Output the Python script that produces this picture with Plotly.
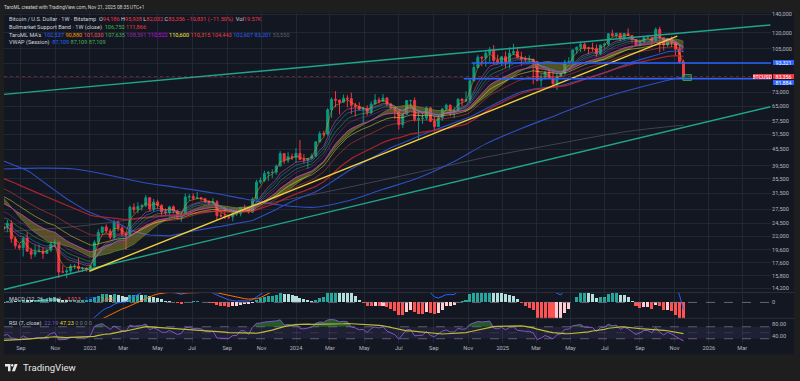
import numpy as np
import pandas as pd
import plotly.graph_objects as go

W, H = 800, 381
FONT = "Roboto, 'Noto Sans', sans-serif"

# ---------------- DATA ----------------
# weekly closes before the visible window (2021-07-05 .. 2022-07-25), used for indicator warm-up
pre_close = [34300, 31800, 35400, 39900, 43800, 47000, 49300, 48800, 51800, 46000, 47300, 42800, 48200,
             57500, 61500, 61000, 61300, 63300, 65500, 59700, 57300, 49400, 50100, 46700, 50800, 47300,
             41800, 43100, 36300, 37900, 42400, 42200, 40100, 37700, 38400, 37800, 41300, 46800, 46400,
             42100, 39700, 39400, 37700, 34100, 31300, 29400, 29500, 29900, 26600, 20600, 21000, 19300,
             20900, 20800, 22600, 23300]

# visible weekly candles (BTCUSD, Bitstamp), 2022-08-01 .. 2025-11-17
first_open = 23300
last_week = "2025-11-17"
high_2022 = [24250, 25200, 25100, 21900, 20600, 21900, 22700, 19950, 20400, 20450, 19950, 19700, 21000, 21450,
             21000, 17200, 16800, 17400, 17400, 18400, 17000, 16950]
low_2022 = [22400, 22700, 20800, 19800, 19600, 18550, 19300, 18150, 18500, 19250, 18200, 18950, 19250, 20050,
            15500, 16250, 15480, 16000, 16700, 16300, 16300, 16350]
close_2022 = [23900, 24450, 21500, 20300, 19950, 21600, 19400, 18900, 19300, 19400, 19050, 19550, 20600, 20900,
              16300, 16300, 16450, 17100, 17100, 16780, 16840, 16620]
high_2023 = [17200, 21250, 23300, 23800, 24250, 23400, 25250, 25100, 24100, 22600, 28400, 28900, 29200, 28800,
             31000, 30500, 30000, 29800, 28700, 27700, 28300, 28450, 27350, 26800, 31400, 31300, 31400, 31800,
             30400, 30100, 29700, 30250, 29700, 26800, 28100, 26100, 27000, 27450, 28050, 28600, 27950, 30400,
             35200, 35900, 37950, 37900, 38400, 40000, 44700, 43900, 44300, 43800]
low_2023 = [16550, 17100, 20400, 22300, 22550, 21400, 21400, 22900, 21950, 19600, 21900, 26600, 26600, 27200,
            28000, 27100, 26950, 27700, 25800, 26150, 25850, 26550, 25350, 24800, 26250, 29500, 29700, 29950,
            29550, 29100, 28600, 28700, 25150, 25800, 25350, 25350, 24900, 26050, 25950, 27200, 26550, 26800,
            29900, 34000, 34550, 34800, 35700, 36700, 39400, 40200, 40500, 41500]
close_2023 = [17130, 20880, 22700, 23740, 22940, 21780, 24630, 23560, 22430, 22150, 27990, 27470, 28170, 28330,
              30300, 27600, 29250, 28430, 26920, 26750, 28080, 27100, 25850, 26340, 30470, 30600, 30160, 30300,
              30080, 29300, 29050, 29300, 26100, 26000, 25830, 25830, 26530, 26550, 27970, 27920, 26860, 29950,
              34530, 35000, 37050, 37400, 37450, 39450, 43800, 41400, 42700, 42300]
high_2024 = [45900, 49000, 43600, 42200, 43850, 48600, 52800, 52900, 64000, 70000, 73800, 68900, 71700, 71300,
             72800, 66900, 67200, 64700, 65500, 67700, 71950, 70000, 72000, 70200, 66950, 64200, 63800, 61400,
             68400, 68500, 70000, 62700, 61800, 65000, 64500, 59800, 60700, 64100, 66500, 66000, 64500, 69400,
             69500, 73600, 81500, 93400, 99600, 98700, 104000, 106600, 108300, 99900, 98900]
low_2024 = [40750, 41500, 40300, 38550, 41900, 42600, 48300, 50600, 50900, 59000, 64500, 60800, 66800, 64500,
            60900, 59700, 62800, 56500, 60200, 60800, 66100, 66600, 67700, 65100, 63400, 58400, 53500, 54300,
            60700, 63500, 57200, 49100, 56100, 57800, 57200, 52600, 54600, 57500, 62700, 59900, 58900, 62500,
            65100, 67500, 66800, 80000, 89400, 90800, 90500, 94200, 92200, 92500, 91300]
close_2024 = [43900, 41700, 41550, 42050, 43000, 48300, 51700, 51550, 63100, 68900, 68400, 67200, 69600, 69300,
              65600, 64900, 63400, 63900, 61500, 66200, 68500, 67750, 69650, 66200, 64200, 62700, 55800, 60800,
              68200, 68250, 58200, 58700, 58900, 64200, 57300, 54900, 59100, 63600, 65600, 62800, 62900, 69000,
              68000, 68800, 80400, 89800, 97900, 97300, 101200, 104300, 95200, 93700, 98300]
high_2025 = [102800, 106400, 109600, 106400, 102500, 98800, 99500, 96500, 95000, 85300, 87500, 88800, 88500,
             86100, 86500, 95800, 97900, 104300, 107100, 111900, 110700, 106800, 110500, 108900, 108500, 110500,
             119500, 123200, 120200, 120000, 119300, 124500, 117600, 113500, 113400, 116700, 117900, 115400,
             125600, 126200, 115900, 114800, 116400, 110700, 107500, 95938]
low_2025 = [89300, 89200, 99600, 97000, 91200, 94100, 93300, 78200, 80000, 76600, 81300, 81600, 77100, 74400,
            83100, 85100, 92800, 93400, 100800, 102100, 103100, 100400, 102700, 98200, 99600, 105200, 107500,
            115700, 114700, 112000, 112600, 116800, 110600, 107300, 107300, 110600, 114400, 108600, 111700,
            102000, 103500, 106600, 106300, 98900, 93000, 82032]
close_2025 = [94500, 101300, 102600, 97700, 96500, 96100, 96300, 94300, 80700, 82600, 86000, 82400, 78400,
              83700, 85200, 94000, 94300, 104100, 106400, 109000, 105700, 105700, 105500, 100900, 108400, 109200,
              119100, 117300, 119400, 114200, 119300, 117400, 113500, 108300, 111100, 115300, 115300, 112100,
              123500, 115200, 108700, 114500, 110500, 104700, 94186, 83356]

# long moving averages (100W and 200W SMA)
sma100_dates = ["2022-08-01", "2022-10-03", "2022-12-05", "2023-02-06", "2023-04-03", "2023-06-05", "2023-08-07",
                "2023-10-02", "2023-12-04", "2024-02-05", "2024-04-01", "2024-06-03", "2024-08-05", "2024-10-07",
                "2024-12-02", "2025-02-03", "2025-04-07", "2025-06-02", "2025-08-04", "2025-10-06", "2025-11-17"]
sma100_vals = [38500, 38800, 38500, 36500, 34500, 33000, 31500, 30000, 28500, 28000, 29500, 32500, 35800,
               41000, 47500, 54000, 60500, 67000, 73500, 79500, 83201]
sma200_dates = ["2022-08-01", "2022-12-05", "2023-04-03", "2023-08-07", "2023-12-04", "2024-04-01", "2024-08-05",
                "2024-12-02", "2025-04-07", "2025-08-04", "2025-11-17"]
sma200_vals = [22800, 23800, 25500, 27000, 29500, 33000, 37500, 42500, 47500, 52500, 55550]

# drawings (trend lines / levels / box)
upper_line_dates = ["2022-08-02", "2026-04-20"]
upper_line_vals = [71780, 128200]
lower_line_dates = ["2022-08-02", "2026-04-20"]
lower_line_vals = [14090, 64760]
yellow_line_dates = ["2022-12-31", "2025-11-06"]
yellow_line_vals = [16400, 116800]
level_1 = 93321
level_1_start = "2024-11-07"
level_2 = 81884
level_2_start = "2024-10-24"
box_dates = ["2025-11-16", "2025-12-01"]
box_vals = [80600, 84700]

# legend / label texts
ohlc_text = ["94,186", "95,938", "82,032", "83,356"]
change_text = "−10,831 (−11.50%)"
vol_text = "19.57K"
bmsb_text = ["106,750", "111,866"]
ma_text = ["102,537", "90,880", "101,030", "107,635", "108,591", "110,522", "110,600", "110,315", "104,443",
           "102,607", "83,201", "55,550"]
vwap_text = ["87,109", "87,109", "87,109"]
macd_text = ["−3,913", "−1,271", "2,642"]
rsi_text = ["22.19", "47.23"]

x_range = ["2022-08-02", "2026-04-21"]
x_tick_vals = ["2022-09-01", "2022-11-01", "2023-01-01", "2023-03-01", "2023-05-01", "2023-07-01",
               "2023-09-01", "2023-11-01", "2024-01-01", "2024-03-01", "2024-05-01", "2024-07-01",
               "2024-09-01", "2024-11-01", "2025-01-01", "2025-03-01", "2025-05-01", "2025-07-01",
               "2025-09-01", "2025-11-01", "2026-01-01", "2026-03-01"]
x_tick_text = ["Sep", "Nov", "2023", "Mar", "May", "Jul", "Sep", "Nov", "2024", "Mar", "May", "Jul", "Sep",
               "Nov", "2025", "Mar", "May", "Jul", "Sep", "Nov", "2026", "Mar"]
price_ticks = [140000, 120000, 105000, 93000, 83000, 73000, 65000, 57500, 51500, 45500, 39500, 35500, 31500,
               27500, 24500, 22000, 19600, 17600, 15800, 14200]
price_tick_text = ["140,000", "120,000", "105,000", "", "", "73,000", "65,000", "57,500", "51,500", "45,500",
                   "39,500", "35,500", "31,500", "27,500", "24,500", "22,000", "19,600", "17,600", "15,800",
                   "14,200"]
macd_axis_range = [-2400, 1500]
rsi_axis_range = [15, 98.3]

# ---------------- derived series ----------------
high = high_2022 + high_2023 + high_2024 + high_2025
low = low_2022 + low_2023 + low_2024 + low_2025
close = close_2022 + close_2023 + close_2024 + close_2025
open_ = [first_open] + close[:-1]
dates = pd.date_range(end=last_week, periods=len(close), freq="7D")
pre_dates = pd.date_range(end=dates[0] - pd.Timedelta(days=7), periods=len(pre_close), freq="7D")
allc = pd.Series(pre_close + close, index=pre_dates.append(dates), dtype=float)
vis = allc.index >= dates[0] - pd.Timedelta(days=7)


def ema(n):
    return allc.ewm(span=n, adjust=False).mean()


ema12, ema26 = ema(12), ema(26)
macd = ema12 - ema26
signal = macd.ewm(span=9, adjust=False).mean()
hist = macd - signal

delta = allc.diff()
up = delta.clip(lower=0).ewm(alpha=1 / 7, adjust=False).mean()
dn = (-delta.clip(upper=0)).ewm(alpha=1 / 7, adjust=False).mean()
rsi = 100 - 100 / (1 + up / dn)
rsi_ma = rsi.rolling(14).mean()

UP, DOWN = "#089981", "#f23645"

fig = go.Figure()

# ---------------- main pane ----------------
fig.add_trace(go.Scatter(x=pd.to_datetime(sma200_dates), y=sma200_vals, mode="lines", line_shape="spline",
                         line=dict(color="#5d606b", width=1), opacity=0.6, xaxis="x", yaxis="y"))
fig.add_trace(go.Scatter(x=pd.to_datetime(sma100_dates), y=sma100_vals, mode="lines", line_shape="spline",
                         line=dict(color="#2f4fc0", width=1.1), xaxis="x", yaxis="y"))
sma50 = allc.rolling(50).mean()
fig.add_trace(go.Scatter(x=allc.index[vis], y=sma50[vis], mode="lines",
                         line=dict(color="#2f4fc0", width=1.1), xaxis="x", yaxis="y"))

# Bull market support band
sma20 = allc.rolling(20).mean()
ema21b = ema(21)
fig.add_trace(go.Scatter(x=allc.index[vis], y=sma20[vis], mode="lines",
                         line=dict(color="#6f8f3a", width=0.6), xaxis="x", yaxis="y"))
fig.add_trace(go.Scatter(x=allc.index[vis], y=ema21b[vis], mode="lines", fill="tonexty",
                         fillcolor="rgba(150,140,45,0.5)",
                         line=dict(color="#a0603a", width=0.6), xaxis="x", yaxis="y"))

ribbon = [(55, "#b3262f", 1.3, 0.9), (34, "#f44336", 0.7, 0.7), (26, "#ffeb3b", 0.7, 0.7),
          (21, "#e040fb", 0.7, 0.7), (16, "#9c27b0", 0.7, 0.7), (13, "#4caf50", 0.7, 0.7),
          (10, "#2196f3", 0.7, 0.7), (8, "#f06292", 0.7, 0.7), (3, "#ff9800", 0.7, 0.7)]
for n, col, wd, op in ribbon:
    fig.add_trace(go.Scatter(x=allc.index[vis], y=ema(n)[vis], mode="lines",
                             line=dict(color=col, width=wd), opacity=op, xaxis="x", yaxis="y"))

fig.add_trace(go.Candlestick(x=dates, open=open_, high=high, low=low, close=close,
                             increasing=dict(line=dict(color=UP, width=1), fillcolor=UP),
                             decreasing=dict(line=dict(color=DOWN, width=1), fillcolor=DOWN),
                             whiskerwidth=0, xaxis="x", yaxis="y"))

# drawings
for dts, vals, col in [(upper_line_dates, upper_line_vals, "#1fa58c"),
                       (lower_line_dates, lower_line_vals, "#1fa58c"),
                       (yellow_line_dates, yellow_line_vals, "#f2cf3a")]:
    fig.add_trace(go.Scatter(x=pd.to_datetime(dts), y=vals, mode="lines",
                             line=dict(color=col, width=1.4), xaxis="x", yaxis="y"))
fig.add_trace(go.Scatter(x=pd.to_datetime(x_range), y=[close[-1]] * 2, mode="lines",
                         line=dict(color="#f23645", width=0.8, dash="dot"), opacity=0.5, xaxis="x", yaxis="y"))
for lv, st in [(level_1, level_1_start), (level_2, level_2_start)]:
    fig.add_trace(go.Scatter(x=pd.to_datetime([st, x_range[1]]), y=[lv, lv], mode="lines",
                             line=dict(color="#2962ff", width=1.5), xaxis="x", yaxis="y"))
bx = pd.to_datetime(box_dates)
fig.add_trace(go.Scatter(x=[bx[0], bx[1], bx[1], bx[0], bx[0]],
                         y=[box_vals[0], box_vals[0], box_vals[1], box_vals[1], box_vals[0]],
                         mode="lines", fill="toself", fillcolor="rgba(38,166,154,0.3)",
                         line=dict(color="#4caf50", width=0.8), xaxis="x", yaxis="y"))

# ---------------- MACD pane ----------------
idx_list = list(allc.index)
hv = hist[allc.index >= dates[0]]
hcol = []
for i in range(len(hv)):
    prev = hist.iloc[idx_list.index(hv.index[i]) - 1]
    cur = hv.iloc[i]
    if cur >= 0:
        hcol.append("#26a69a" if cur > prev else "#b2dfdb")
    else:
        hcol.append("#ffcdd2" if cur > prev else "#ff5252")
fig.add_trace(go.Scatter(x=pd.to_datetime(x_range), y=[0, 0], mode="lines",
                         line=dict(color="#787b86", width=0.8, dash="dash"), xaxis="x2", yaxis="y2"))
fig.add_trace(go.Bar(x=hv.index, y=hv.values, marker=dict(color=hcol, line=dict(width=0)),
                     width=5.4 * 86400000, xaxis="x2", yaxis="y2"))
fig.add_trace(go.Scatter(x=allc.index[vis], y=macd[vis], mode="lines",
                         line=dict(color="#2962ff", width=1), xaxis="x2", yaxis="y2"))
fig.add_trace(go.Scatter(x=allc.index[vis], y=signal[vis], mode="lines",
                         line=dict(color="#ff6d00", width=1), xaxis="x2", yaxis="y2"))

# ---------------- RSI pane ----------------
xr = pd.to_datetime(x_range)
fig.add_trace(go.Scatter(x=xr, y=[30, 30], mode="lines", line=dict(width=0), xaxis="x3", yaxis="y3"))
fig.add_trace(go.Scatter(x=xr, y=[70, 70], mode="lines", line=dict(width=0), fill="tonexty",
                         fillcolor="rgba(126,87,194,0.12)", xaxis="x3", yaxis="y3"))
rv = rsi[vis]
fig.add_trace(go.Scatter(x=rv.index, y=[70] * len(rv), mode="lines", line=dict(width=0), xaxis="x3", yaxis="y3"))
fig.add_trace(go.Scatter(x=rv.index, y=np.maximum(rv.values, 70), mode="lines", line=dict(width=0),
                         fill="tonexty", fillcolor="rgba(46,125,50,0.65)", xaxis="x3", yaxis="y3"))
fig.add_trace(go.Scatter(x=rv.index, y=[30] * len(rv), mode="lines", line=dict(width=0), xaxis="x3", yaxis="y3"))
fig.add_trace(go.Scatter(x=rv.index, y=np.minimum(rv.values, 30), mode="lines", line=dict(width=0),
                         fill="tonexty", fillcolor="rgba(242,54,69,0.3)", xaxis="x3", yaxis="y3"))
for lvl, op in [(70, 0.9), (50, 0.35), (30, 0.9)]:
    fig.add_trace(go.Scatter(x=xr, y=[lvl, lvl], mode="lines", opacity=op,
                             line=dict(color="#787b86", width=0.8, dash="dash"), xaxis="x3", yaxis="y3"))
fig.add_trace(go.Scatter(x=rv.index, y=rv.values, mode="lines", line=dict(color="#7e57c2", width=1),
                         xaxis="x3", yaxis="y3"))
fig.add_trace(go.Scatter(x=rsi_ma[vis].index, y=rsi_ma[vis].values, mode="lines",
                         line=dict(color="#bdbd35", width=1.2), xaxis="x3", yaxis="y3"))

# ---------------- layout ----------------
def py(y):
    return 1 - y / H


XD = [4 / W, 771 / W]
GRID = "rgba(42,46,57,0.75)"
TICKF = dict(size=5.6, color="#b2b5be", family=FONT)
xcommon = dict(type="date", range=x_range, domain=XD, showgrid=True, gridcolor=GRID, gridwidth=1,
               tickvals=x_tick_vals, ticktext=x_tick_text, zeroline=False, showline=False, ticks="",
               rangeslider=dict(visible=False), tickfont=TICKF, fixedrange=True)
ycommon = dict(side="right", zeroline=False, showline=False, ticks="", tickfont=TICKF, fixedrange=True)

fig.update_layout(
    width=W, height=H, margin=dict(l=0, r=0, t=0, b=0),
    paper_bgcolor="#1e1e1e", plot_bgcolor="rgba(0,0,0,0)",
    showlegend=False, hovermode=False, bargap=0,
    xaxis=dict(**xcommon, anchor="y", showticklabels=False),
    xaxis2=dict(**xcommon, anchor="y2", matches="x", showticklabels=False),
    xaxis3=dict(**xcommon, anchor="y3", matches="x", showticklabels=True),
    yaxis=dict(**ycommon, type="log", domain=[py(292), py(11)],
               range=[np.log10(13740), np.log10(141700)], anchor="x",
               tickvals=price_ticks, ticktext=price_tick_text, showgrid=True, gridcolor=GRID),
    yaxis2=dict(**ycommon, domain=[py(318), py(292)], range=macd_axis_range, anchor="x2",
                tickvals=[0], ticktext=["0"], showgrid=False),
    yaxis3=dict(**ycommon, domain=[py(343), py(318)], range=rsi_axis_range, anchor="x3",
                tickvals=[80, 40], ticktext=["80.00", "40.00"], showgrid=False),
)

shapes = [
    dict(type="rect", xref="paper", yref="paper", x0=4 / W, x1=794 / W, y0=py(354), y1=py(11),
         fillcolor="#131722", line=dict(width=0), layer="below"),
    dict(type="line", xref="paper", yref="paper", x0=4 / W, x1=794 / W, y0=py(292), y1=py(292),
         line=dict(color="#2a2e39", width=1)),
    dict(type="line", xref="paper", yref="paper", x0=4 / W, x1=794 / W, y0=py(318), y1=py(318),
         line=dict(color="#2a2e39", width=1)),
]


def P(x, y):
    return f"{x / W:.5f},{py(y):.5f}"


shapes += [
    dict(type="path", xref="paper", yref="paper",
         path=f"M{P(5, 364)} L{P(10.5, 364)} L{P(10.5, 371.3)} L{P(8, 371.3)} L{P(8, 366.4)} L{P(5, 366.4)} Z",
         fillcolor="#e6e6e6", line=dict(width=0)),
    dict(type="circle", xref="paper", yref="paper", x0=11 / W, x1=13.4 / W, y0=py(366.4), y1=py(364),
         fillcolor="#e6e6e6", line=dict(width=0)),
    dict(type="path", xref="paper", yref="paper",
         path=f"M{P(14.6, 364)} L{P(17.6, 364)} L{P(14.9, 371.3)} L{P(11.9, 371.3)} Z",
         fillcolor="#e6e6e6", line=dict(width=0)),
]
fig.update_layout(shapes=shapes)

NB = "\u00a0"


def sp(t, c):
    return f"<span style='color:{c}'>{t}</span>"


LBL = "#d1d4dc"
RED = "#f23645"
line1 = ("Bitcoin / U.S. Dollar · 1W · Bitstamp" + NB * 2 + "O" + sp(ohlc_text[0], RED) + NB + "H" +
         sp(ohlc_text[1], RED) + NB + "L" + sp(ohlc_text[2], RED) + NB + "C" + sp(ohlc_text[3], RED) + NB +
         sp(change_text, RED) + NB * 2 + "Vol" + sp(vol_text, RED))
line2 = "Bullmarket Support Band · 1W (close)" + NB * 2 + sp(bmsb_text[0], "#4caf50") + NB + sp(bmsb_text[1], RED)
ma_cols = ["#2962ff", "#ff9800", "#f7525f", "#4caf50", "#9c27b0", "#d500f9", "#ffeb3b", "#f44336", "#f23645",
           "#2962ff", "#2962ff", "#5d606b"]
line3 = "TaroML MA's" + NB * 2 + NB.join(sp(t, c) for t, c in zip(ma_text, ma_cols))
line4 = "VWAP (Session)" + NB * 2 + NB.join(sp(t, c) for t, c in zip(vwap_text, ["#2962ff", "#4caf50", "#4caf50"]))
macd_line = ("MACD (12, 26, close)" + NB * 2 + sp(macd_text[0], "#ff5252") + NB + sp(macd_text[1], "#2962ff") +
             NB + sp(macd_text[2], "#ff6d00"))
rsi_line = ("RSI (7, close)" + NB * 2 + sp(rsi_text[0], "#7e57c2") + NB + sp(rsi_text[1], "#e5dc3a") + NB +
            sp(NB.join(["0"] * 4), "#787b86"))


def ann(x, y, text, size=5.6, color=LBL, xanchor="left", **kw):
    return dict(x=x / W, y=py(y), xref="paper", yref="paper", text=text, showarrow=False, xanchor=xanchor,
                yanchor="middle", font=dict(size=size, color=color, family=FONT), **kw)


anns = [
    ann(2, 5.5, "TaroML created with TradingView.com, Nov 21, 2025 08:35 UTC+1", size=4.8),
    ann(7, 17.5, line1), ann(7, 25.2, line2), ann(7, 32.8, line3), ann(7, 40.3, line4),
    ann(7, 299.5, macd_line), ann(7, 323.3, rsi_line),
    ann(21, 367.5, "TradingView", size=9.6, color="#e6e6e6"),
]


def price_box(val, text, color, x=773, xanchor="left", width=21):
    return dict(x=x / W, y=np.log10(val), xref="paper", yref="y", text=text, showarrow=False,
                xanchor=xanchor, yanchor="middle", bgcolor=color, width=width, height=5, align="center",
                borderpad=0, borderwidth=0, font=dict(size=5.3, color="#ffffff", family=FONT))


anns += [
    price_box(level_1, f"{level_1:,}", "#2962ff"),
    price_box(level_2 * 0.972, f"{level_2:,}", "#2962ff"),
    price_box(close[-1], f"{close[-1]:,}", RED),
    price_box(close[-1], "BTCUSD", RED, x=772, xanchor="right", width=19),
]
fig.update_layout(annotations=anns)

fig.write_html("out.html", config={"displayModeBar": False, "staticPlot": True},
               post_script="document.body.style.margin='0';document.body.style.overflow='hidden';")
